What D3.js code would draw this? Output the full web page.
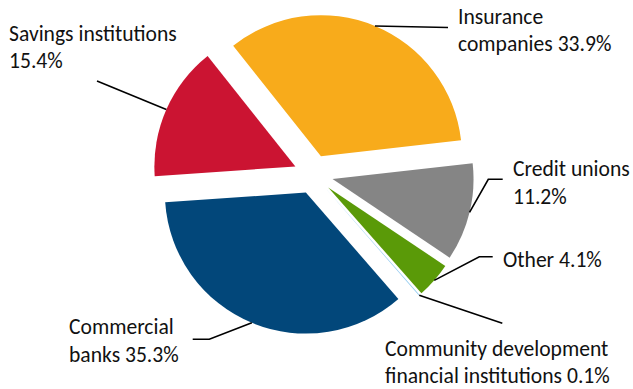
<!DOCTYPE html>
<html>
<head>
<meta charset="utf-8">
<script src="https://cdn.jsdelivr.net/npm/d3@7"></script>
<style>
  html, body { margin: 0; padding: 0; background: #fff; }
  svg text { font-family: Carlito, Calibri, Lato, "Noto Sans", sans-serif; font-size: 21.6px; fill: #111; }
</style>
</head>
<body>
<svg id="chart" width="633" height="389"></svg>
<script>
// Shares of the total, in percent
const categories = [
  "Insurance companies",
  "Credit unions",
  "Other",
  "Community development financial institutions",
  "Commercial banks",
  "Savings institutions"
];
const shares = [33.9, 11.2, 4.1, 0.1, 35.3, 15.4];
const labelLines = [
  ["Insurance", "companies 33.9%"],
  ["Credit unions", "11.2%"],
  ["Other 4.1%"],
  ["Community development", "financial institutions 0.1%"],
  ["Commercial", "banks 35.3%"],
  ["Savings institutions", "15.4%"]
];
const colors = ["#F8AB1B", "#858585", "#5A9A08", "#8CC8F0", "#02477A", "#CB1432"];

// Layout
const cx = 313.4, cy = 174.4, radius = 141, explode = 19.7;
const firstAngle = -38.5 * Math.PI / 180;

// Label anchor (x, first baseline) and leader elbow points for each slice
const labelPos = [
  { x: 458, y: 23.5, path: [[448, 27.5]] },
  { x: 513, y: 176, path: [[488.3, 179.3], [502.7, 179.3]] },
  { x: 503, y: 266.7, path: [[479.3, 256.7], [492.7, 256.7]] },
  { x: 385, y: 355.7, path: [[502.3, 323.3]] },
  { x: 69, y: 334.3, path: [[209.3, 339.3], [192.7, 339.3]] },
  { x: 9, y: 40.7, path: [[97, 81]] }
];
const lineGap = 27.6;

const data = categories.map((c, i) => ({ name: c, value: shares[i], i }));

const pie = d3.pie()
  .sort(null)
  .value(d => d.value)
  .startAngle(firstAngle)
  .endAngle(firstAngle + 2 * Math.PI);

const arcs = pie(data);
const arc = d3.arc().innerRadius(0).outerRadius(radius);
const rimArc = d3.arc().innerRadius(radius).outerRadius(radius);

const svg = d3.select("#chart");
const g = svg.append("g").attr("transform", `translate(${cx},${cy})`);

function shift(a) {
  const mid = (a.startAngle + a.endAngle) / 2;
  return [Math.sin(mid) * explode, -Math.cos(mid) * explode];
}

g.selectAll("path.slice")
  .data(arcs)
  .join("path")
  .attr("class", "slice")
  .attr("d", arc)
  .attr("fill", d => colors[d.data.i])
  .attr("transform", d => { const [dx, dy] = shift(d); return `translate(${dx},${dy})`; });

// Leader lines: from the rim at each slice's mid-angle to its label
const line = d3.line();
arcs.forEach(a => {
  const [dx, dy] = shift(a);
  const [rx, ry] = rimArc.centroid(a);
  const start = [cx + dx + rx, cy + dy + ry];
  const pts = [start].concat(labelPos[a.data.i].path);
  svg.append("path")
    .attr("d", line(pts))
    .attr("fill", "none")
    .attr("stroke", "#000")
    .attr("stroke-width", 1.6);
});

// Labels
arcs.forEach(a => {
  const p = labelPos[a.data.i];
  const t = svg.append("text").attr("x", p.x).attr("y", p.y);
  labelLines[a.data.i].forEach((s, k) => {
    t.append("tspan").attr("x", p.x).attr("y", p.y + k * lineGap).text(s);
  });
});
</script>
</body>
</html>
